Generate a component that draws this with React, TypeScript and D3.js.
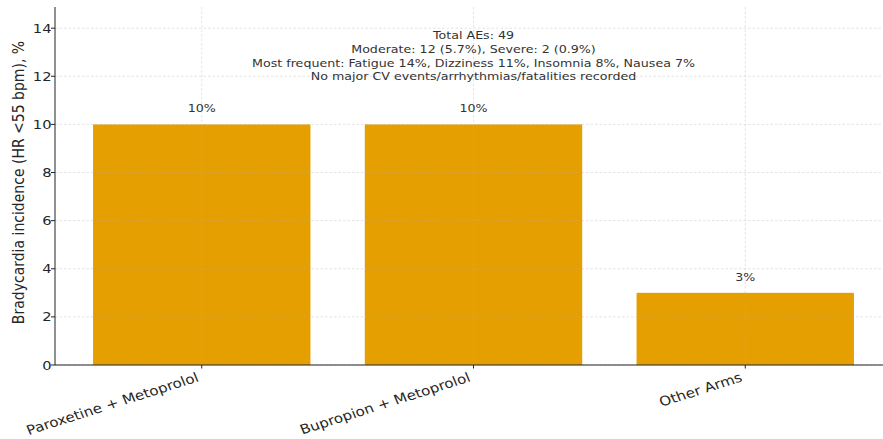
import React from "react";
import * as d3 from "d3";

const categories = ["Paroxetine + Metoprolol", "Bupropion + Metoprolol", "Other Arms"];
const incidence = [10, 10, 3];
const valueLabels = ["10%", "10%", "3%"];
const yTicks = [0, 2, 4, 6, 8, 10, 12, 14];
const noteLines = [
  "Total AEs: 49",
  "Moderate: 12 (5.7%), Severe: 2 (0.9%)",
  "Most frequent: Fatigue 14%, Dizziness 11%, Insomnia 8%, Nausea 7%",
  "No major CV events/arrhythmias/fatalities recorded",
];

const W = 883;
const H = 439;
const left = 55;
const right = 892;
const top = 7;
const bottom = 365;
const FONT = "'DejaVu Sans', sans-serif";
const BAR = "#E69F00";
// glyphs are drawn slightly wide
const SX = 1.15;

export default function App() {
  const x = d3
    .scaleBand<string>()
    .domain(categories)
    .range([left, right])
    .paddingInner(0.2)
    .paddingOuter(0.14);
  const y = d3.scaleLinear().domain([0, 14.88]).range([bottom, top]);
  const cx = (c: string) => (x(c) as number) + x.bandwidth() / 2;

  return (
    <svg
      width={W}
      height={H}
      style={{ position: "absolute", left: 0, top: 0, background: "#fff" }}
      fontFamily={FONT}
    >
      {/* bars */}
      {categories.map((c, i) => (
        <rect
          key={c}
          x={x(c)}
          y={y(incidence[i])}
          width={x.bandwidth()}
          height={bottom - y(incidence[i])}
          fill={BAR}
        />
      ))}

      {/* grid */}
      <g stroke="#b0b0b0" strokeOpacity={0.45} strokeWidth={0.8} strokeDasharray="2.5,2">
        {yTicks.map((t) => (
          <line key={"gy" + t} x1={left} x2={W} y1={y(t)} y2={y(t)} />
        ))}
        {categories.map((c) => (
          <line key={"gx" + c} x1={cx(c)} x2={cx(c)} y1={top} y2={bottom} />
        ))}
      </g>

      {/* axes */}
      <line x1={left} x2={left} y1={top} y2={bottom} stroke="#222" strokeWidth={1} />
      <line x1={left} x2={W} y1={bottom} y2={bottom} stroke="#222" strokeWidth={1} />

      {yTicks.map((t) => (
        <g key={"ty" + t}>
          <line x1={left - 4} x2={left} y1={y(t)} y2={y(t)} stroke="#222" />
          <text
            transform={`translate(${left - 3.5},${y(t)}) scale(${SX},1)`}
            dy="0.36em"
            textAnchor="end"
            fontSize={12.8}
            fill="#262626"
          >
            {t}
          </text>
        </g>
      ))}

      {categories.map((c) => (
        <g key={"tx" + c}>
          <line x1={cx(c)} x2={cx(c)} y1={bottom} y2={bottom + 3.5} stroke="#222" />
          <text
            transform={`translate(${cx(c) - 2},${bottom + 16}) scale(${SX},1) rotate(-20)`}
            textAnchor="end"
            fontSize={13.2}
            fill="#262626"
          >
            {c}
          </text>
        </g>
      ))}

      {/* y label */}
      <text
        transform={`translate(24,${(top + bottom) / 2 - 3.5}) scale(${SX},1) rotate(-90)`}
        textAnchor="middle"
        fontSize={14}
        fill="#262626"
      >
        Bradycardia incidence (HR &lt;55 bpm), %
      </text>

      {/* value labels */}
      {categories.map((c, i) => (
        <text
          key={"v" + c}
          transform={`translate(${cx(c)},${y(incidence[i]) - 12}) scale(${SX},1)`}
          textAnchor="middle"
          fontSize={11}
          fill="#333"
        >
          {valueLabels[i]}
        </text>
      ))}

      {/* summary note */}
      <text
        transform={`translate(${cx(categories[1])},39) scale(${SX},1)`}
        textAnchor="middle"
        fontSize={11}
        fill="#333"
      >
        {noteLines.map((l, i) => (
          <tspan key={i} x={0} dy={i === 0 ? 0 : 13.8}>
            {l}
          </tspan>
        ))}
      </text>
    </svg>
  );
}
